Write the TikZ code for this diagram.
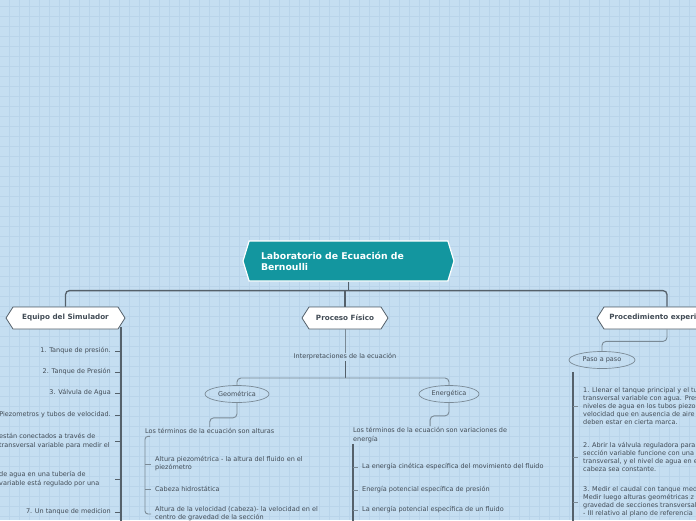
\documentclass[tikz,border=0pt]{standalone}
\usepackage{fontspec}
\setmainfont{DejaVu Sans}
\usepackage{tikz}
\usetikzlibrary{positioning}
\usetikzlibrary{shapes.geometric}
\usetikzlibrary{shapes.symbols}
\definecolor{bgblue}{RGB}{197,222,241}
\definecolor{gridblue}{RGB}{185,212,234}
\definecolor{rootteal}{RGB}{19,150,159}
\definecolor{darkline}{RGB}{84,96,106}
\definecolor{midline}{RGB}{122,138,150}
\definecolor{inkgray}{RGB}{66,76,86}
\newcommand{\leaffont}{\fontsize{6.5}{8}\selectfont}

\begin{document}
\begin{tikzpicture}[x=1pt, y=-1pt,
    rootbox/.style={signal, signal to=west and east, signal pointer angle=146, fill=rootteal, draw=white, line width=1.2pt, text=white, font=\bfseries\fontsize{9.3}{11}\selectfont, minimum height=40, minimum width=211, text width=175, align=left, inner sep=0},
    branchbox/.style={signal, signal to=west and east, signal pointer angle=115, fill=white, draw=darkline, line width=0.8pt, text=inkgray, font=\bfseries\fontsize{7.2}{8}\selectfont, minimum height=22, inner sep=0},
    topicoval/.style={ellipse, draw=midline, line width=0.7pt, text=inkgray, font=\leaffont, minimum height=17, inner sep=0},
    leaf/.style={text=inkgray, font=\leaffont, inner sep=1, align=left},
    trunk/.style={draw=darkline, line width=1.3pt},
    twig/.style={draw=midline, line width=0.9pt, rounded corners=4},
    spine/.style={draw=darkline, line width=1.5pt},
    thinspine/.style={draw=midline, line width=0.9pt, rounded corners=3}]
    % Page and grid
    \useasboundingbox (0,0) rectangle (696,520);
    \clip (0,0) rectangle (696,520);
    \fill[bgblue] (0,0) rectangle (696,520);
    \foreach \gx in {9,19,...,689} \draw[gridblue, line width=0.5pt] (\gx,0) -- (\gx,520);
    \foreach \gy in {6,16,...,516} \draw[gridblue, line width=0.5pt] (0,\gy) -- (696,\gy);

    % Root and main branches
    \node[rootbox] (root) at (348.5,261) {Laboratorio de Ecuación de\\Bernoulli};
    \node[branchbox, minimum width=119] (equipo) at (65.5,318) {Equipo del Simulador};
    \node[branchbox, minimum width=86] (proceso) at (345,318) {Proceso Físico};
    \node[branchbox, minimum width=140] (experim) at (667,318) {Procedimiento experimental};
    \draw[trunk] (root.south) -- ++(0,9) coordinate (hub);
    \draw[trunk, rounded corners=4] (hub) -| (equipo.north);
    \draw[trunk, rounded corners=4] (hub) -| (experim.north);
    \draw[trunk] (hub) -| (proceso.north);

    % Equipo del Simulador
    \coordinate (eqtop) at (121,327);
    \draw[spine] (eqtop) -- (121,525);
    \node[leaf, anchor=east] (e1) at (112,351) {1. Tanque de presión.};
    \node[leaf, anchor=east] (e2) at (112,372) {2. Tanque de Presión};
    \node[leaf, anchor=east] (e3) at (112,393) {3. Válvula de Agua};
    \node[leaf, anchor=east] (e4) at (112,415) {Piezometros y tubos de velocidad.};
    \node[leaf, anchor=west, font=\fontsize{6.5}{9}\selectfont] (e5) at (-2,441) {están conectados a través de\\transversal variable para medir el};
    \node[leaf, anchor=west, font=\fontsize{6.5}{9}\selectfont] (e6) at (-2,479) {de agua en una tubería de\\variable está regulado por una};
    \node[leaf, anchor=east] (e7) at (112,512) {7. Un tanque de medicion};
    \foreach \e in {e1,e2,e3,e4,e5,e6,e7}
        \draw[darkline, line width=0.8pt] (\e.east -| eqtop) -- ++(-6,0);

    % Proceso Fisico
    \node[leaf] (interp) at (345,357) {Interpretaciones de la ecuación};
    \draw[twig] (proceso.south) -- (interp.north);
    \coordinate (ibar) at (345,378);
    \draw[trunk, line width=1pt] (interp.south) -- (ibar);
    \node[topicoval, minimum width=64] (geo) at (237,394) {Geométrica};
    \node[topicoval, minimum width=60] (ener) at (449,394) {Energética};
    \draw[twig] (ibar) -| (geo.north);
    \draw[twig] (ibar) -| (ener.north);

    % Geometrica
    \node[leaf, anchor=west] (geotxt) at (144,431) {Los términos de la ecuación son alturas};
    \draw[twig] (geo.south) -- ++(0,15) -| (geotxt.north);
    \node[leaf, anchor=west] (g1) at (154,464) {Altura piezométrica - la altura del fluido en el\\piezómetro};
    \node[leaf, anchor=west] (g2) at (154,489) {Cabeza hidrostática};
    \node[leaf, anchor=west] (g3) at (154,514) {Altura de la velocidad (cabeza)- la velocidad en el\\centro de gravedad de la sección};
    \coordinate (gx) at (145,0);
    \draw[thinspine] ([xshift=6pt, yshift=-1.5pt]geotxt.south west) -| (gx |- g3.west) -- ([xshift=-3pt]g3.west);
    \foreach \g in {g1,g2}
        \draw[thinspine] (gx |- \g.west) -- ([xshift=-3pt]\g.west);

    % Energetica
    \node[leaf, anchor=north west, font=\fontsize{6.5}{9}\selectfont] (enertxt) at (352,426) {Los términos de la ecuación son variaciones de\\energía};
    \draw[twig] (ener.south) -- ++(0,13) -| (enertxt.north);
    \node[leaf, anchor=west] (n1) at (361,467) {La energía cinética específica del movimiento del fluido};
    \node[leaf, anchor=west] (n2) at (361,490) {Energía potencial específica de presión};
    \node[leaf, anchor=west] (n3) at (361,510) {La energía potencial específica de un fluido};
    \coordinate (nx) at (353,0);
    \draw[spine] (nx |- enertxt.south) -- (353,525);
    \foreach \n in {n1,n2,n3}
        \draw[twig] (nx |- \n.west) -- ([xshift=-3pt]\n.west);

    % Procedimiento experimental
    \node[topicoval, minimum width=66] (paso) at (602,360) {Paso a paso};
    \draw[twig] (experim.south) -- ++(0,12) -| (paso.north);
    \node[leaf, anchor=west] (p1) at (582,406) {1. Llenar el tanque principal y el tubo\\transversal variable con agua. Presione\\niveles de agua en los tubos piezométricos\\velocidad que en ausencia de aire\\deben estar en cierta marca.};
    \node[leaf, anchor=west] (p2) at (582,457) {2. Abrir la válvula reguladora para\\sección variable funcione con una\\transversal, y el nivel de agua en el\\cabeza sea constante.};
    \node[leaf, anchor=west] (p3) at (582,502) {3. Medir el caudal con tanque medidor.\\Medir luego alturas geométricas z\\gravedad de secciones transversales\\- III relativo al plano de referencia};
    \coordinate (px) at (573,0);
    \draw[spine] ([yshift=-3pt]px |- paso.south) -- (573,525);
    \foreach \p in {p1,p2,p3}
        \draw[twig] (px |- \p.west) -- ([xshift=-4pt]\p.west);
\end{tikzpicture}
\end{document}
